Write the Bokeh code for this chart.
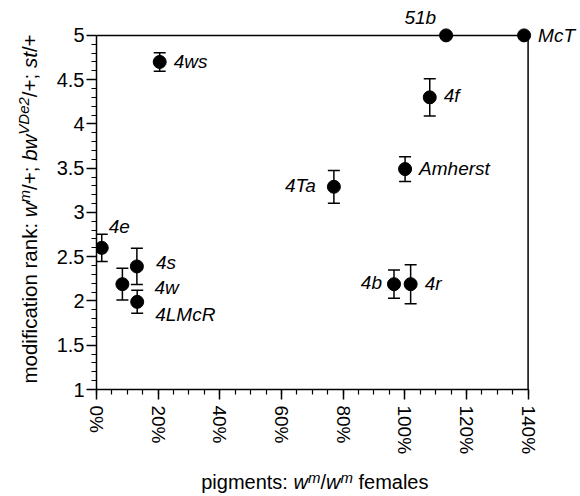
import math
from bokeh.plotting import figure
from bokeh.layouts import row, column
from bokeh.models import ColumnDataSource, Whisker, TeeHead, Label, FixedTicker, Range1d
from bokeh.core.properties import value
from bokeh.embed import file_html
from bokeh.resources import INLINE

# ---------------- data ----------------
strains = ["4e", "4s", "4w", "4LMcR", "4ws", "4f", "51b", "McT", "Amherst", "4b", "4r", "4Ta"]
pigment = [1.7, 13.1, 8.4, 13.2, 20.5, 108.1, 113.4, 138.7, 100.1, 96.5, 101.9, 77.0]
rank = [2.60, 2.39, 2.19, 1.99, 4.70, 4.30, 5.0, 5.0, 3.49, 2.19, 2.19, 3.29]
rank_err = [0.155, 0.205, 0.18, 0.13, 0.105, 0.21, 0.0, 0.0, 0.14, 0.16, 0.22, 0.185]

x_ticks = [0, 20, 40, 60, 80, 100, 120, 140]
x_tick_labels = ["0%", "20%", "40%", "60%", "80%", "100%", "120%", "140%"]
y_ticks = [1, 1.5, 2, 2.5, 3, 3.5, 4, 4.5, 5]
y_tick_labels = ["1", "1.5", "2", "2.5", "3", "3.5", "4", "4.5", "5"]

# ---------------- layout ----------------
FONT = "Liberation Sans"
W, H = 580, 496
LW = 44            # width of the strip holding the y title
HM = 460           # height of the main chart
FL = 96            # page x of the frame's left edge
ML, MR, MT, MB = FL - LW, 0, 0, HM - 389
X0, X1 = 0, 157
Y0, Y1 = 1, 5.394
MID = 0.36         # distance from baseline to the text's middle, in em

p = figure(width=W - LW, height=HM, x_range=Range1d(X0, X1), y_range=Range1d(Y0, Y1),
           output_backend="svg", toolbar_location=None, title=None,
           min_border_left=ML, min_border_right=MR, min_border_top=MT, min_border_bottom=MB)
p.xgrid.visible = False
p.ygrid.visible = False
p.outline_line_color = None
p.background_fill_color = "white"
p.border_fill_color = "white"

for ax, ticks, labels, minor, bounds, fs in (
        (p.xaxis[0], x_ticks, x_tick_labels, [v * 5 for v in range(0, 29)], (0, 140), "19px"),
        (p.yaxis[0], y_ticks, y_tick_labels, [round(1 + v * 0.1, 1) for v in range(0, 41)], (1, 5), "20px")):
    ax.ticker = FixedTicker(ticks=ticks, minor_ticks=minor)
    ax.major_label_overrides = dict(zip(ticks, labels))
    ax.bounds = bounds
    ax.axis_line_color = "black"
    ax.axis_line_width = 1.5
    ax.major_tick_line_color = "black"
    ax.major_tick_line_width = 1.5
    ax.minor_tick_line_color = "black"
    ax.minor_tick_line_width = 1.2
    ax.major_tick_in = 0
    ax.major_tick_out = 10
    ax.minor_tick_in = 0
    ax.minor_tick_out = 5
    ax.major_label_text_font = FONT
    ax.major_label_text_font_size = fs
    ax.major_label_text_color = "black"

p.xaxis[0].major_label_orientation = "vertical"
p.xaxis[0].major_label_standoff = 6
p.yaxis[0].major_label_standoff = 2

# box (top and right edges)
p.segment(x0=[0, 140], y0=[5, 1], x1=[140, 140], y1=[5, 5], line_color="black", line_width=1.5)

# error bars
idx = [i for i, e in enumerate(rank_err) if e > 0]
err_src = ColumnDataSource(dict(
    x=[pigment[i] for i in idx],
    upper=[rank[i] + rank_err[i] for i in idx],
    lower=[rank[i] - rank_err[i] for i in idx]))
p.add_layout(Whisker(base="x", upper="upper", lower="lower", source=err_src, dimension="height",
                     line_color="black", line_width=1.5,
                     upper_head=TeeHead(size=12, line_width=1.5, line_color="black"),
                     lower_head=TeeHead(size=12, line_width=1.5, line_color="black")))

p.scatter(pigment, rank, size=13, color="black")

# point labels (dx, dy of the text baseline in px, dy positive = down)
LS = 19
label_pos = {
    "4e": (7, -15, "left"), "4s": (19, 3, "left"), "4w": (32, 10, "left"),
    "4LMcR": (18, 19, "left"), "4ws": (14, 6, "left"), "4f": (14, 5, "left"),
    "51b": (-10, -11, "right"), "McT": (14, 7, "left"), "Amherst": (14, 6, "left"),
    "4b": (-12, 5, "right"), "4r": (14, 6, "left"), "4Ta": (-18, 6, "right"),
}
for name, xv, yv in zip(strains, pigment, rank):
    dx, dy, al = label_pos[name]
    p.add_layout(Label(x=xv, y=yv, x_offset=dx, y_offset=-(dy - MID * LS), text=name,
                       text_align=al, text_baseline="middle", text_font=FONT,
                       text_font_style="italic", text_font_size=f"{LS}px", text_color="black"))

# ---------------- rich axis titles in their own strips ----------------
CW = {' ': 278, 'a': 556, 'b': 556, 'c': 500, 'd': 556, 'e': 556, 'f': 278, 'g': 556, 'h': 556,
      'i': 222, 'k': 500, 'l': 222, 'm': 833, 'n': 556, 'o': 556, 'p': 556, 'r': 333, 's': 500,
      't': 278, 'w': 722, 'V': 667, 'D': 722, '2': 556, '/': 278, '+': 584, ';': 278, ':': 278}


def tw(s, size):
    return sum(CW[c] for c in s) * size / 1000.0


def strip(width, height, page_x0, page_y0, border_left=0):
    # a plain text strip whose frame maps page pixels 1:1 (y measured upward from its bottom)
    f = figure(width=width, height=height,
               x_range=Range1d(page_x0 + border_left, page_x0 + width),
               y_range=Range1d(H - page_y0 - height, H - page_y0),
               output_backend="svg", toolbar_location=None,
               title=None, x_axis_type=None, y_axis_type=None,
               min_border_left=border_left, min_border_right=0, min_border_top=0, min_border_bottom=0)
    f.xgrid.visible = False
    f.ygrid.visible = False
    f.outline_line_color = None
    f.background_fill_color = "white"
    f.border_fill_color = "white"
    return f


def piece(f, px, py, text, style, size, angle=0.0):
    # px, py: page pixels (from top-left) of the anchor on the text's middle line
    f.text(x=[px], y=[H - py], text=[text], angle=angle, text_align="left",
           text_baseline="middle", text_font=value(FONT), text_font_style=style,
           text_font_size=f"{size}px", text_color="black")


left = strip(LW, H, 0, 0)
S = 20.5
SS = 15.0
y_title = [("modification rank: ", "normal", S, 0), ("w", "italic", S, 0), ("m", "italic", SS, 7),
           ("/+; ", "normal", S, 0), ("bw", "italic", S, 0), ("VDe2", "italic", SS, 8),
           ("/+; ", "normal", S, 0), ("st", "italic", S, 0), ("/+", "normal", S, 0)]
total = sum(tw(t, s) for t, _, s, _ in y_title)
cur = 208.5 + total / 2
base_x = 36
for t, st, s, r in y_title:
    if t.strip():
        piece(left, base_x - r - MID * s, cur, t.rstrip(), st, s, angle=math.pi / 2)
    cur -= tw(t, s)

bottom = strip(W - LW, H - HM, LW, HM, border_left=ML)
SX = 20.0
x_title = [("pigments:", "normal", SX, 0), ("w", "italic", SX, 0), ("m", "italic", SS, 7),
           ("/", "normal", SX, 0), ("w", "italic", SX, 0), ("m", "italic", SS, 7),
           ("females", "normal", SX, 0)]
x_gaps = [tw(" ", SX), 0, 0, 0, 0, tw(" ", SX), 0]
curx = 200.7
base_y = 489
for (t, st, s, r), g in zip(x_title, x_gaps):
    piece(bottom, curx, base_y - r - MID * s, t, st, s)
    curx += tw(t, s) + g

layout = row(left, column(p, bottom, spacing=0), spacing=0)
open("out.html", "w").write(file_html(layout, INLINE))
